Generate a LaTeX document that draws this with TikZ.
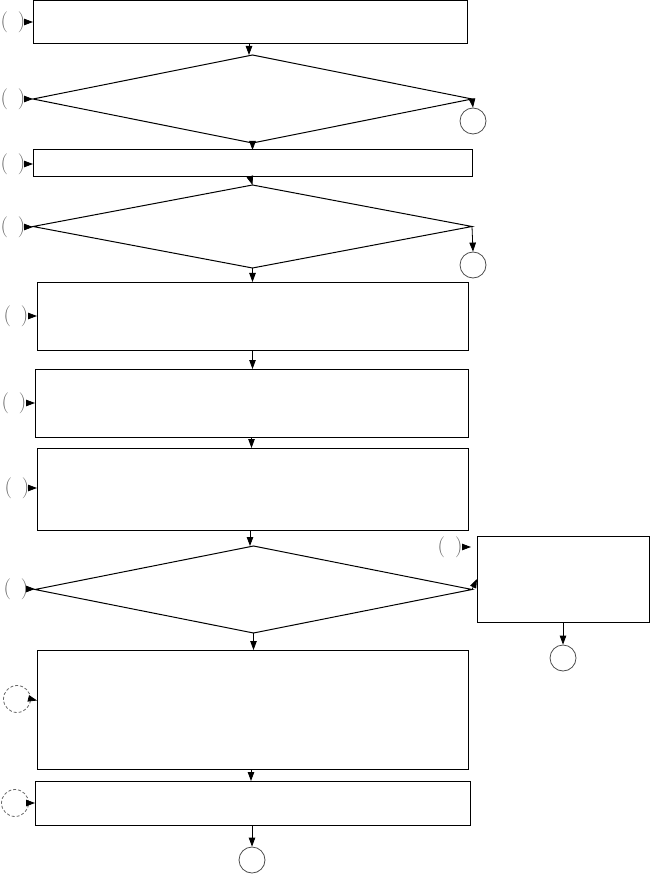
\documentclass[tikz,border=0pt]{standalone}
\usetikzlibrary{shapes.geometric,arrows.meta}
\begin{document}
\begin{tikzpicture}[x=1pt,y=-1pt,
  box/.style={draw,line width=1pt,rectangle,inner sep=0pt,outer sep=0pt},
  dia/.style={draw,line width=1pt,diamond,inner sep=0pt,outer sep=0pt},
  endc/.style={draw=black!70,line width=0.8pt,circle,inner sep=0pt,minimum size=26pt},
  pmark/.style={text=black!60,inner sep=0pt,font=\fontsize{21}{21}\selectfont},
  markc/.style={draw=black!60,densely dashed,line width=0.8pt,circle,inner sep=0pt,minimum size=27pt},
  arr/.style={-{Triangle[length=9pt,width=6.5pt]},line width=0.8pt}]
\useasboundingbox (0,0) rectangle (650,874);
% boxes
\node[box,minimum width=434pt,minimum height=43pt] (b1) at (250,22.5) {};
\node[dia,minimum width=439pt,minimum height=88pt] (d1) at (252.5,99) {};
\node[box,minimum width=439pt,minimum height=27pt] (b3) at (252.5,163.5) {};
\node[dia,minimum width=439pt,minimum height=83pt] (d2) at (252.5,226.5) {};
\node[box,minimum width=431pt,minimum height=68pt] (b5) at (252.5,316) {};
\node[box,minimum width=433pt,minimum height=68pt] (b6) at (251.5,403) {};
\node[box,minimum width=431pt,minimum height=82pt] (b7) at (252.5,489) {};
\node[dia,minimum width=437pt,minimum height=87pt] (d3) at (253.5,589.5) {};
\node[box,minimum width=172pt,minimum height=86pt] (rb) at (563,579) {};
\node[box,minimum width=431pt,minimum height=119pt] (b9) at (252.5,709.5) {};
\node[box,minimum width=435pt,minimum height=44pt] (b10) at (252.5,803) {};
% end circles
\node[endc] (e1) at (473,121) {};
\node[endc] (e2) at (473,265) {};
\node[endc] (e3) at (563,658) {};
\node[endc] (e4) at (252,860) {};
% markers
\node[pmark] (m1) at (13,22) {(\hspace{10pt})};
\node[pmark] (m2) at (13,99) {(\hspace{10pt})};
\node[pmark] (m3) at (13,164) {(\hspace{10pt})};
\node[pmark] (m4) at (13,227) {(\hspace{10pt})};
\node[pmark] (m5) at (16,316) {(\hspace{10pt})};
\node[pmark] (m6) at (14,403) {(\hspace{10pt})};
\node[pmark] (m7) at (17,488) {(\hspace{10pt})};
\node[pmark] (m8) at (16,589) {(\hspace{10pt})};
\node[pmark] (m9) at (450,547) {(\hspace{10pt})};
\node[markc] (m10) at (17,699) {};
\node[markc] (m11) at (15,803) {};
% marker arrows
\foreach \m/\b in {m1/b1,m2/d1,m3/b3,m4/d2,m5/b5,m6/b6,m7/b7,m8/d3,m11/b10}
  \draw[arr] (\m.east) -- (\b.west |- \m.east);
\draw[arr,shorten >=6pt] (m9.east) -- (rb.west |- m9.east);
\draw[arr] (m10.east) -- ([yshift=9pt]b9.west);
% flow arrows
\draw[arr] (b1.south -| 249,0) -- (249,55);
\draw[arr] (d1.south) -- (d1.south |- b3.north);
\draw[arr] (b3.south -| 250,0) -- (d2.north);
\draw[arr] (d2.south) -- (d2.south |- b5.north);
\draw[arr] (b5.south) -- (b5.south |- b6.north);
\draw[arr] (b6.south) -- (b6.south |- b7.north);
\draw[arr] (b7.south -| 250,0) -- (d3.north -| 250,0);
\draw[arr] (d3.south) -- (d3.south |- b9.north);
\draw[arr] (b9.south -| 251,0) -- (b10.north -| 251,0);
\draw[arr] (b10.south -| 252,0) -- (e4.north);
\draw[arr] (d1.east) -- (e1.north);
\draw[arr] (d2.east) -- (e2.north);
\draw[arr] (d3.east) -- (rb.west);
\draw[arr] (rb.south) -- (e3.north);
\end{tikzpicture}
\end{document}
